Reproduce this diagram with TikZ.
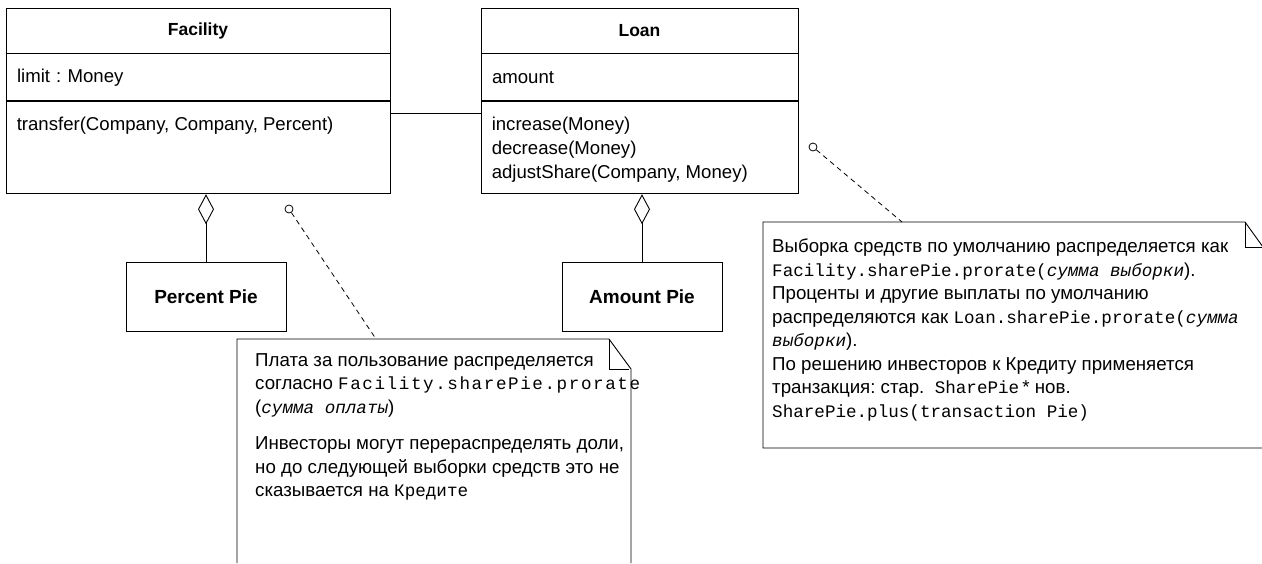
\documentclass[tikz,border=0pt]{standalone}
\usepackage{fontspec}
\setmainfont{Liberation Sans}
\setmonofont{Liberation Mono}
\newfontfamily\spacedmono{Liberation Mono}[LetterSpace=9]
\usetikzlibrary{positioning,arrows.meta}

\newcommand{\headfont}{\fontsize{17.5}{20}\selectfont\bfseries}
\newcommand{\piefont}{\fontsize{19}{22}\selectfont\bfseries}
\newcommand{\bodyfont}{\fontsize{18.6}{24}\selectfont}
\newcommand{\notefont}{\fontsize{18.7}{23.5}\selectfont}
\newcommand{\codefont}{\fontsize{17.6}{23.5}\selectfont}

\tikzset{
  part/.style={draw, line width=0.9pt, inner xsep=11pt, inner ysep=0pt},
  partfill/.style={part, text width=#1, align=left},
  pie/.style={draw, line width=0.9pt, minimum width=160pt, minimum height=69pt, font=\piefont},
  aggr/.style={line width=0.9pt, -{Diamond[open, length=30pt, width=16pt, line width=0.9pt]}},
  pin/.style={circle, draw, line width=0.8pt, minimum size=8pt, inner sep=0pt},
  link/.style={line width=0.8pt, dash pattern=on 5pt off 4pt},
  notebox/.style={line width=0.9pt},
}

\begin{document}
\frenchspacing
\begin{tikzpicture}[x=1pt, y=-1pt]
    \clip (0,0) rectangle (1262,563);

    % Facility
    \node[part, minimum width=384, minimum height=45, font=\headfont] (fhead) at (198,30.5) {Facility};
    \node[partfill=362, minimum height=47, font=\bodyfont, below=0pt of fhead] (fattr) {limit : Money};
    \node[part, minimum width=384, minimum height=92, below=0pt of fattr] (fops) {};
    \node[anchor=north west, inner sep=0pt, font=\bodyfont, align=left] (fopstxt)
        at ([xshift=11pt, yshift=-15pt]fops.north west) {transfer(Company, Company, Percent)};

    % Loan
    \node[part, minimum width=317, minimum height=45, font=\headfont] (lhead) at (639.5,30.5) {Loan};
    \node[partfill=295, minimum height=47, font=\bodyfont, below=0pt of lhead] (lattr) {amount};
    \node[part, minimum width=317, minimum height=92, below=0pt of lattr] (lops) {};
    \node[anchor=north west, inner sep=0pt, font=\bodyfont, align=left] (lopstxt)
        at ([xshift=11pt, yshift=-15pt]lops.north west) {increase(Money)\\decrease(Money)\\adjustShare(Company, Money)};

    \draw[line width=0.9pt] ([yshift=-12pt]fops.north east) -- ([yshift=-12pt]lops.north west);

    % pies
    \node[pie] (ppie) at (206,296.5) {Percent Pie};
    \node[pie] (apie) at (642,296.5) {Amount Pie};
    \draw[aggr] (ppie.north) -- (ppie.north |- fops.south);
    \draw[aggr] (apie.north) -- (apie.north |- lops.south);

    % note 1
    \draw[notebox] (237,563) -- (237,339) -- (609,339) -- (631,369) -- (631,563);
    \draw[notebox] (609,339) -- (609,369) -- (629,369);
    \coordinate (nfirst) at (376,339);
    \node[anchor=north west, inner sep=0pt, font=\notefont, align=left] (nfirsttxt) at (255,353)
        {Плата за пользование распределяется\\
         согласно {\codefont\spacedmono Facility.sharePie.prorate}\\
         ({\codefont\ttfamily\itshape сумма оплаты})\\[13pt]
         Инвесторы могут перераспределять доли,\\
         но до следующей выборки средств это не\\
         сказывается на {\codefont\ttfamily Кредите}};
    \node[pin] (fpin) at (289,209) {};
    \draw[link] (fpin) -- (nfirst);

    % note 2
    \draw[notebox] (1263,448) -- (763,448) -- (763,222) -- (1245,222) -- (1263,247);
    \draw[notebox] (1245,222) -- (1245,247) -- (1263,247);
    \coordinate (nsecond) at (902,222);
    \node[anchor=north west, inner sep=0pt, font=\notefont, align=left] (nsecondtxt) at (772,239)
        {Выборка средств по умолчанию распределяется как\\
         {\codefont\ttfamily Facility.sharePie.prorate(\itshape сумма выборки}).\\
         Проценты и другие выплаты по умолчанию\\
         распределяются как {\codefont\ttfamily Loan.sharePie.prorate(\itshape сумма}\\
         {\codefont\ttfamily\itshape выборки}).\\
         По решению инвесторов к Кредиту применяется\\
         транзакция: стар. \ {\codefont\ttfamily SharePie}\,*\ нов.\\
         {\codefont\ttfamily SharePie.plus(transaction Pie)}};
    \node[pin] (lpin) at (813,147) {};
    \draw[link] (lpin) -- (nsecond);
\end{tikzpicture}
\end{document}
